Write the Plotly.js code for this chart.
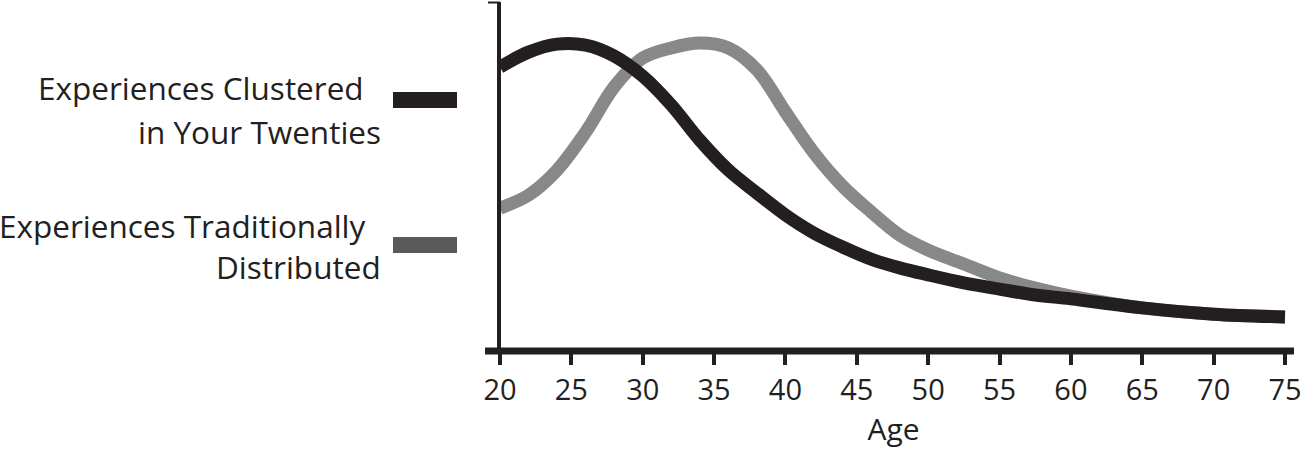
<!DOCTYPE html>
<html>
<head>
<meta charset="utf-8">
<script src="https://cdn.plot.ly/plotly-3.0.1.min.js"></script>
<style>html,body{margin:0;padding:0;background:#fff;}#chart{width:1307px;height:456px;}</style>
</head>
<body>
<div id="chart"></div>
<script>
// ---- data (relative frequency of experiences, arbitrary units 0-100) ----
var ages = [20, 22, 24, 26, 28, 30, 32, 34, 36, 38, 40, 42, 44, 46, 48, 50, 52.5, 55, 57.5, 60, 65, 70, 75];
var clusteredTwenties = [81.3, 85.6, 87.9, 87.6, 84.5, 78.7, 70.4, 60.3, 51.7, 45.1, 38.8, 33.6, 29.6, 26.1, 23.6, 21.6, 19.3, 17.5, 15.8, 14.7, 12.1, 10.3, 9.5];
var traditional = [40.8, 44.5, 51.7, 62.6, 75.6, 83.9, 86.8, 88.2, 86.8, 80.5, 68.4, 56.6, 47.1, 39.7, 33.0, 28.7, 24.7, 20.7, 17.8, 15.5, 12.1, 10.3, 9.5];
var tickAges = [20, 25, 30, 35, 40, 45, 50, 55, 60, 65, 70, 75];
var tickLabels = ['20', '25', '30', '35', '40', '45', '50', '55', '60', '65', '70', '75'];
var seriesNames = ['Experiences Clustered', 'in Your Twenties', 'Experiences Traditionally', 'Distributed'];
var xTitle = 'Age';

// ---- geometry helpers (pixel -> coordinates) ----
var W = 1307, H = 456;
var PLOT_L = 493, PLOT_R = 1294, PLOT_T = 2, PLOT_B = 350;
var pxPerYear = (1285 - 500) / 55;
function dataX(p) { return 20 + (p - 500) / pxPerYear; }
function paperX(p) { return (p - PLOT_L) / (PLOT_R - PLOT_L); }
function paperY(p) { return (PLOT_B - p) / (PLOT_B - PLOT_T); }

var INK = '#231f20';
var GRAY_LINE = '#87888a';
var GRAY_SWATCH = '#58595b';
var FONT = 'Open Sans, Lato, sans-serif';
var LEG_SIZE = 31.5;

var traces = [
  { x: ages, y: traditional, type: 'scatter', mode: 'lines', name: 'Experiences Traditionally Distributed',
    line: { color: GRAY_LINE, width: 13, shape: 'spline', smoothing: 1.0 }, hoverinfo: 'skip' },
  { x: ages, y: clusteredTwenties, type: 'scatter', mode: 'lines', name: 'Experiences Clustered in Your Twenties',
    line: { color: INK, width: 13, shape: 'spline', smoothing: 1.0 }, hoverinfo: 'skip' }
];

var layout = {
  width: W, height: H,
  margin: { l: PLOT_L, r: W - PLOT_R, t: PLOT_T, b: H - PLOT_B },
  paper_bgcolor: '#fff', plot_bgcolor: '#fff',
  showlegend: false,
  font: { family: FONT, color: INK },
  xaxis: {
    range: [dataX(PLOT_L), dataX(PLOT_R)],
    tickvals: tickAges, ticktext: tickLabels,
    ticks: 'outside', ticklen: 14, tickwidth: 4, tickcolor: INK,
    tickfont: { family: FONT, size: 29, color: INK },
    showgrid: false, zeroline: false, showline: false,
    title: { text: xTitle, font: { family: FONT, size: 30, color: INK }, standoff: 4 }
  },
  yaxis: {
    range: [0, 100], showgrid: false, zeroline: false, showline: false,
    showticklabels: false, ticks: ''
  },
  shapes: [
    // x axis line
    { type: 'line', xref: 'paper', yref: 'paper', x0: paperX(485), x1: paperX(1294), y0: paperY(351), y1: paperY(351),
      line: { color: INK, width: 7 }, layer: 'above' },
    // y axis line
    { type: 'line', xref: 'paper', yref: 'paper', x0: paperX(499), x1: paperX(499), y0: paperY(353), y1: paperY(2),
      line: { color: INK, width: 4 }, layer: 'above' },
    // hook at top of y axis
    { type: 'line', xref: 'paper', yref: 'paper', x0: paperX(488), x1: paperX(500), y0: paperY(2.5), y1: paperY(2.5),
      line: { color: INK, width: 2 }, layer: 'above' },
    // legend swatches
    { type: 'rect', xref: 'paper', yref: 'paper', x0: paperX(393), x1: paperX(457), y0: paperY(108), y1: paperY(92),
      fillcolor: INK, line: { width: 0 } },
    { type: 'rect', xref: 'paper', yref: 'paper', x0: paperX(393), x1: paperX(457), y0: paperY(253), y1: paperY(237),
      fillcolor: GRAY_SWATCH, line: { width: 0 } }
  ],
  annotations: [
    { text: seriesNames[0], xref: 'paper', yref: 'paper', x: paperX(366), y: paperY(88), xanchor: 'right', yanchor: 'middle',
      showarrow: false, font: { family: FONT, size: LEG_SIZE, color: INK } },
    { text: seriesNames[1], xref: 'paper', yref: 'paper', x: paperX(383), y: paperY(131), xanchor: 'right', yanchor: 'middle',
      showarrow: false, font: { family: FONT, size: LEG_SIZE, color: INK } },
    { text: seriesNames[2], xref: 'paper', yref: 'paper', x: paperX(368), y: paperY(225), xanchor: 'right', yanchor: 'middle',
      showarrow: false, font: { family: FONT, size: LEG_SIZE, color: INK } },
    { text: seriesNames[3], xref: 'paper', yref: 'paper', x: paperX(383), y: paperY(266), xanchor: 'right', yanchor: 'middle',
      showarrow: false, font: { family: FONT, size: LEG_SIZE, color: INK } }
  ]
};

Plotly.newPlot('chart', traces, layout, { displayModeBar: false, staticPlot: true });
</script>
</body>
</html>
